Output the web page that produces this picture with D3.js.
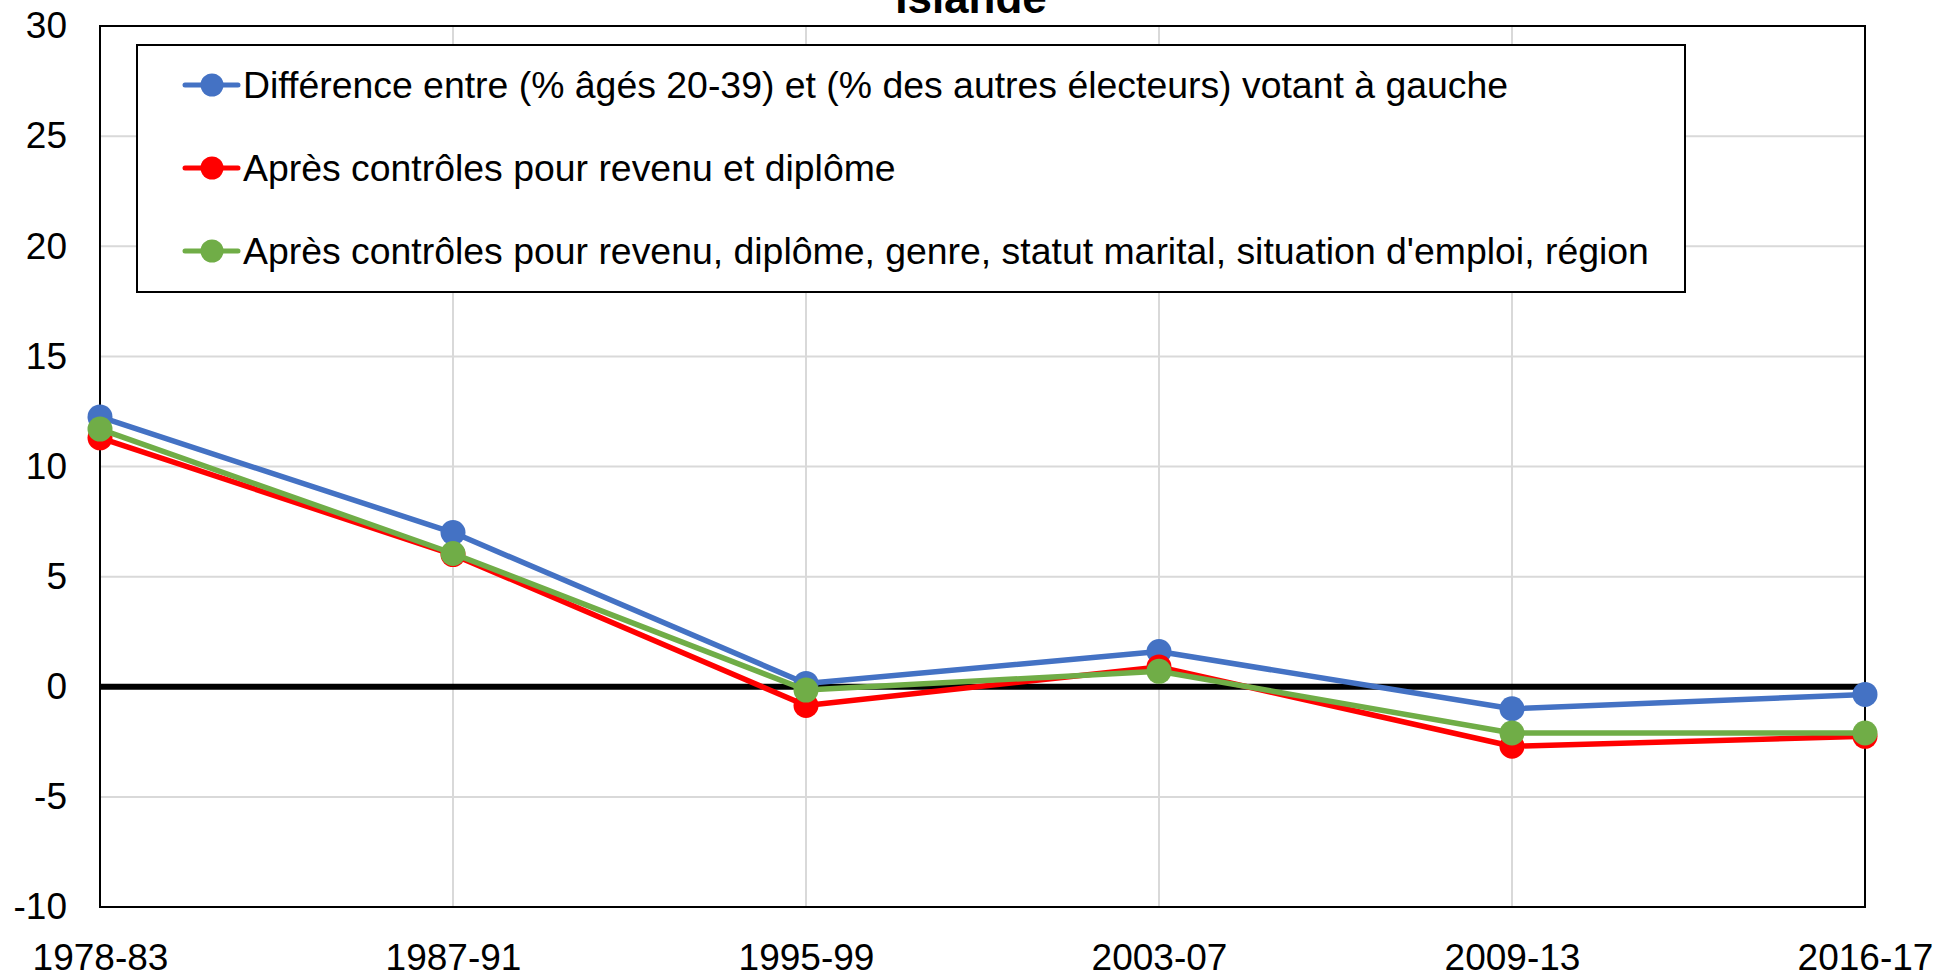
<!DOCTYPE html>
<html>
<head>
<meta charset="utf-8">
<script src="https://cdn.jsdelivr.net/npm/d3@7"></script>
<style>
  html, body { margin: 0; padding: 0; background: #fff; }
  svg { display: block; font-family: "Liberation Sans", Arial, sans-serif; }
</style>
</head>
<body>
<svg id="chart" width="1937" height="978"></svg>
<script>
// data
var periods = ["1978-83", "1987-91", "1995-99", "2003-07", "2009-13", "2016-17"];
var diffRaw = [12.25, 7.0, 0.15, 1.6, -1.0, -0.35];
var ctrlRevDip = [11.3, 6.0, -0.85, 0.9, -2.7, -2.25];
var ctrlAll = [11.7, 6.05, -0.15, 0.7, -2.1, -2.1];
var yTicks = [-10, -5, 0, 5, 10, 15, 20, 25, 30];
var seriesNames = [
  "Différence entre (% âgés 20-39) et (% des autres électeurs) votant à gauche",
  "Après contrôles pour revenu et diplôme",
  "Après contrôles pour revenu, diplôme, genre, statut marital, situation d'emploi, région"
];
var seriesColors = ["#4472c4", "#ff0000", "#70ad47"];
var chartTitle = "Islande";

var series = [diffRaw, ctrlRevDip, ctrlAll].map(function(v, i) {
  return { name: seriesNames[i], color: seriesColors[i], values: v };
});

(function() {
const svg = d3.select("#chart");
const plotLeft = 100, plotRight = 1865, plotTop = 26, plotBottom = 907;

const x = d3.scalePoint().domain(periods).range([plotLeft, plotRight]);
const y = d3.scaleLinear().domain([-10, 30]).range([plotBottom, plotTop]);

// grid
svg.append("g")
  .selectAll("line")
  .data(yTicks)
  .enter().append("line")
  .attr("x1", plotLeft).attr("x2", plotRight)
  .attr("y1", d => y(d)).attr("y2", d => y(d))
  .attr("stroke", "#d9d9d9").attr("stroke-width", 2);

svg.append("g")
  .selectAll("line")
  .data(periods)
  .enter().append("line")
  .attr("x1", d => x(d)).attr("x2", d => x(d))
  .attr("y1", plotTop).attr("y2", plotBottom)
  .attr("stroke", "#d9d9d9").attr("stroke-width", 2);

// frame
svg.append("rect")
  .attr("x", plotLeft).attr("y", plotTop)
  .attr("width", plotRight - plotLeft).attr("height", plotBottom - plotTop)
  .attr("fill", "none").attr("stroke", "#000").attr("stroke-width", 2);

// zero line
svg.append("line")
  .attr("x1", plotLeft).attr("x2", plotRight)
  .attr("y1", y(0)).attr("y2", y(0))
  .attr("stroke", "#000").attr("stroke-width", 6);

// y axis labels (plain hyphen for negatives, like the original)
const yAxis = d3.axisLeft(y).tickValues(yTicks).tickSize(0).tickPadding(33)
  .tickFormat(d => String(d));
svg.append("g")
  .attr("transform", "translate(" + plotLeft + ",0)")
  .call(yAxis)
  .call(g => g.select(".domain").remove())
  .selectAll("text")
  .attr("font-size", 37).attr("fill", "#000")
  .attr("font-family", "Liberation Sans, Arial, sans-serif");

// x axis labels
const xAxis = d3.axisBottom(x).tickSize(0).tickPadding(37);
svg.append("g")
  .attr("transform", "translate(0," + plotBottom + ")")
  .call(xAxis)
  .call(g => g.select(".domain").remove())
  .selectAll("text")
  .attr("font-size", 37).attr("fill", "#000")
  .attr("font-family", "Liberation Sans, Arial, sans-serif");

// lines
const line = d3.line()
  .x((d, i) => x(periods[i]))
  .y(d => y(d));

series.forEach(function(s) {
  svg.append("path")
    .datum(s.values)
    .attr("d", line)
    .attr("fill", "none")
    .attr("stroke", s.color)
    .attr("stroke-width", 5.5)
    .attr("stroke-linejoin", "round");
  svg.append("g")
    .selectAll("circle")
    .data(s.values)
    .enter().append("circle")
    .attr("cx", (d, i) => x(periods[i]))
    .attr("cy", d => y(d))
    .attr("r", 12.5)
    .attr("fill", s.color);
});

// title (clipped at top)
svg.append("text")
  .attr("x", 971).attr("y", 13)
  .attr("text-anchor", "middle")
  .attr("font-size", 44).attr("font-weight", "bold")
  .text(chartTitle);

// legend
const lg = svg.append("g");
lg.append("rect")
  .attr("x", 137).attr("y", 45)
  .attr("width", 1685 - 137).attr("height", 292 - 45)
  .attr("fill", "#fff").attr("stroke", "#000").attr("stroke-width", 2);

series.forEach(function(s, i) {
  const ly = 85 + i * 83;
  lg.append("line")
    .attr("x1", 185).attr("x2", 238)
    .attr("y1", ly).attr("y2", ly)
    .attr("stroke", s.color).attr("stroke-width", 5).attr("stroke-linecap", "round");
  lg.append("circle")
    .attr("cx", 212).attr("cy", ly).attr("r", 11.5)
    .attr("fill", s.color);
  lg.append("text")
    .attr("x", 243).attr("y", ly)
    .attr("dy", "0.35em")
    .attr("font-size", 37.4)
    .text(s.name);
});
})();
</script>
</body>
</html>
